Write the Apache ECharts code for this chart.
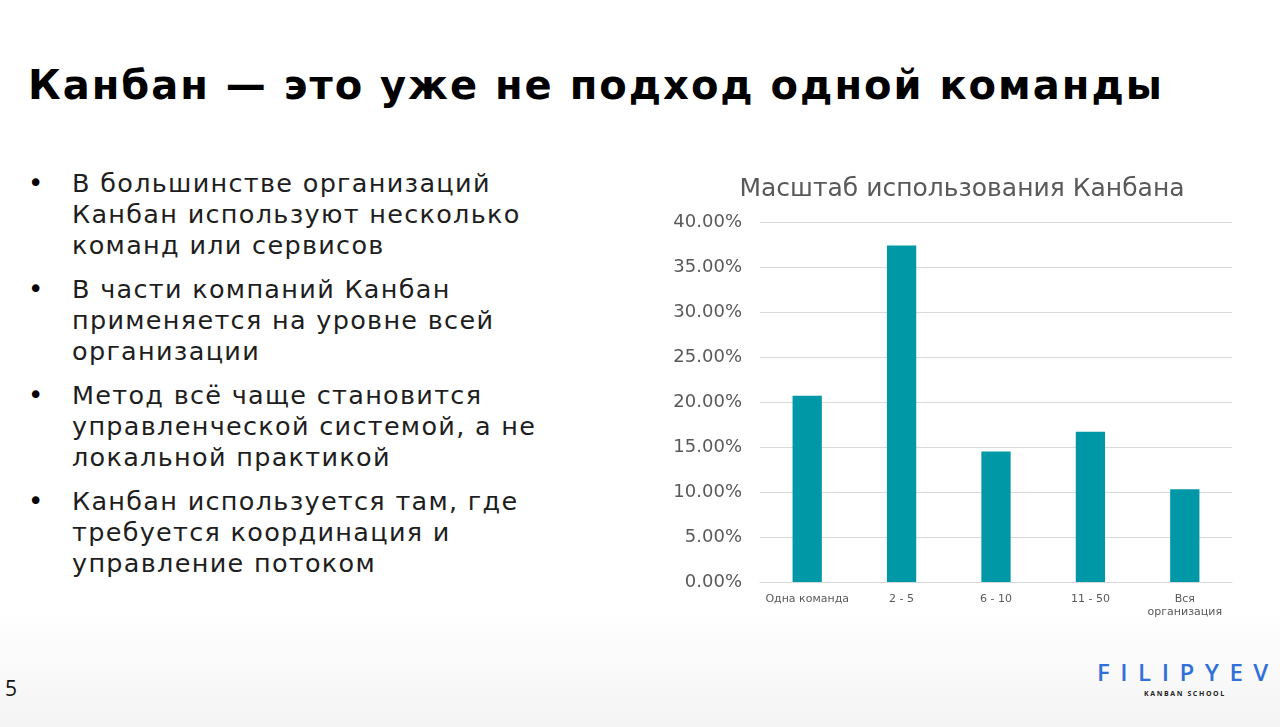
<!DOCTYPE html>
<html lang="ru">
<head>
<meta charset="utf-8">
<script src="https://cdn.jsdelivr.net/npm/echarts@6/dist/echarts.min.js"></script>
<style>
html,body{margin:0;padding:0;}
body{width:1280px;height:727px;position:relative;overflow:hidden;
 background:linear-gradient(to bottom,#ffffff 0px,#ffffff 610px,#f4f4f4 727px);
 font-family:"DejaVu Sans","Open Sans",sans-serif;}
#title{position:absolute;left:28px;top:62px;font-size:40px;font-weight:700;color:#000;white-space:nowrap;letter-spacing:2px;}
#bullets{position:absolute;left:28px;top:168px;width:600px;margin:0;padding:0;list-style:none;}
#bullets li{position:relative;padding-left:44px;font-size:25.5px;line-height:31px;color:#1e1e1e;font-weight:400;margin-bottom:13px;white-space:nowrap;letter-spacing:1.3px;}
#bullets li::before{content:"•";position:absolute;left:0;top:0;font-size:26px;color:#000;}
#page{position:absolute;left:5px;top:674px;font-size:21px;color:#111;font-family:"Open Sans",sans-serif;}
#logo1{position:absolute;left:1097px;top:658px;font-family:"Open Sans",sans-serif;font-size:24px;letter-spacing:10.5px;color:#3070d8;font-weight:600;line-height:28px;white-space:nowrap;}
#logo2{position:absolute;left:1144px;top:689px;font-family:"Open Sans",sans-serif;font-size:7px;letter-spacing:1.6px;color:#222;font-weight:700;line-height:10px;white-space:nowrap;}
#chart{position:absolute;left:660px;top:160px;width:600px;height:470px;}
</style>
</head>
<body>
<div id="title">Канбан — это уже не подход одной команды</div>
<ul id="bullets">
<li>В большинстве организаций<br>Канбан используют несколько<br>команд или сервисов</li>
<li>В части компаний Канбан<br>применяется на уровне всей<br>организации</li>
<li>Метод всё чаще становится<br>управленческой системой, а не<br>локальной практикой</li>
<li>Канбан используется там, где<br>требуется координация и<br>управление потоком</li>
</ul>
<div id="page">5</div>
<div id="logo1">FILIPYEV</div>
<div id="logo2">KANBAN SCHOOL</div>
<div id="chart"></div>
<script>
const chartTitle = "Масштаб использования Канбана";
const categories = ["Одна команда", "2 - 5", "6 - 10", "11 - 50", "Вся\nорганизация"];
const shares = [0.207, 0.374, 0.145, 0.167, 0.103];
const yMin = 0, yMax = 0.40, yStep = 0.05;

const chart = echarts.init(document.getElementById('chart'));
chart.setOption({
  animation:false,
  title:{text:chartTitle,left:297,top:12,textAlign:'center',
    textStyle:{fontFamily:'DejaVu Sans',fontSize:25,fontWeight:400,color:'#595959'}},
  grid:{left:100,right:28,top:62,bottom:48},
  xAxis:{type:'category',data:categories,
    axisLine:{show:true,lineStyle:{color:'#d9d9d9'}},axisTick:{show:false},
    axisLabel:{interval:0,fontFamily:'DejaVu Sans',fontSize:11,color:'#595959',margin:11,lineHeight:13}},
  yAxis:{type:'value',min:yMin,max:yMax,interval:yStep,
    axisLine:{show:false},axisTick:{show:false},
    splitLine:{lineStyle:{color:'#d9d9d9',width:1}},
    axisLabel:{fontFamily:'DejaVu Sans',fontSize:18,color:'#595959',margin:18,
      formatter:v=>(v*100).toFixed(2)+'%'}},
  series:[{type:'bar',data:shares,barWidth:'31%',
    itemStyle:{color:'#0097a7'}}]
});
</script>
</body>
</html>
